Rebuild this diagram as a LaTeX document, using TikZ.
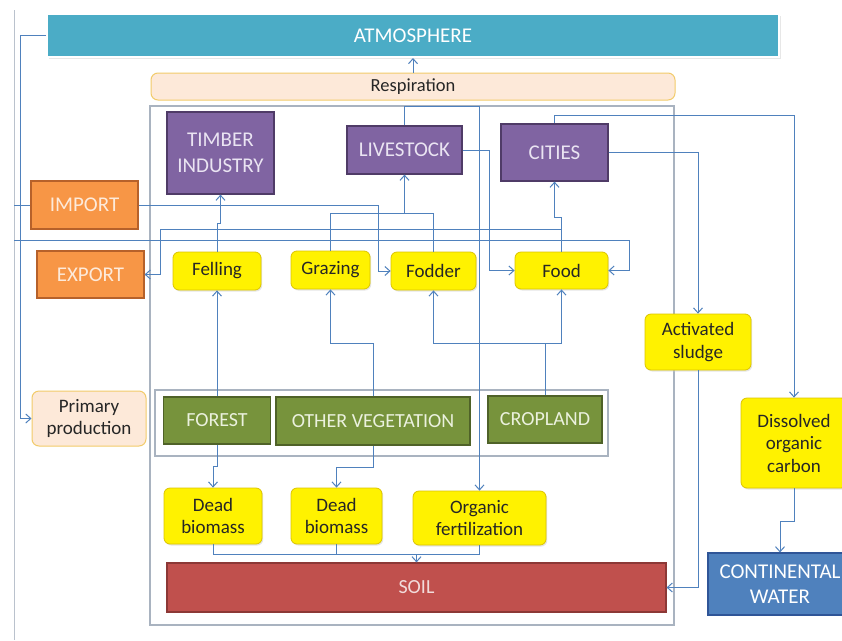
\documentclass[tikz,border=0pt]{standalone}
\usepackage{fontspec}
\setmainfont{Carlito}
\usetikzlibrary{arrows.meta,shadows}

\definecolor{atmfill}{HTML}{4BACC6}
\definecolor{flowblue}{HTML}{4F81BD}
\definecolor{framegray}{HTML}{A9B3C0}
\definecolor{peach}{HTML}{FDE9D9}
\definecolor{peachline}{HTML}{F2CB6A}
\definecolor{purplefill}{HTML}{8064A2}
\definecolor{purpleline}{HTML}{4F3B67}
\definecolor{purpletext}{HTML}{EAE4F2}
\definecolor{orangefill}{HTML}{F79646}
\definecolor{orangeline}{HTML}{B6612A}
\definecolor{orangetext}{HTML}{FDEADA}
\definecolor{greenfill}{HTML}{77933C}
\definecolor{greenline}{HTML}{4F6228}
\definecolor{greentext}{HTML}{EBF1DE}
\definecolor{redfill}{HTML}{C0504D}
\definecolor{redline}{HTML}{8C3836}
\definecolor{redtext}{HTML}{F2DCDB}
\definecolor{waterfill}{HTML}{4F81BD}
\definecolor{waterline}{HTML}{2F5597}
\definecolor{yellowline}{HTML}{DCC400}

\begin{document}
\begin{tikzpicture}[x=1pt,y=-1pt,
  >={Straight Barb[length=5pt,width=9pt]},
  flow/.style={draw=flowblue, line width=1pt},
  sz/.style 2 args={minimum width=#1pt, minimum height=#2pt},
  box/.style={rectangle, inner sep=0pt, align=center, line width=1.2pt},
  caps/.style={box, font=\fontsize{21}{25.5}\selectfont},
  purplebox/.style={caps, fill=purplefill, draw=purpleline, text=purpletext},
  orangebox/.style={caps, fill=orangefill, draw=orangeline, text=orangetext},
  greenbox/.style={caps, font=\fontsize{20}{24}\selectfont, fill=greenfill, draw=greenline, text=greentext},
  yellowbox/.style={box, rounded corners=6pt, fill=yellow, draw=yellowline, line width=0.8pt,
    text=black!85, font=\fontsize{19}{22.5}\selectfont,
    drop shadow={shadow xshift=1.2pt, shadow yshift=-1.5pt, fill=black!20}},
  peachbox/.style={box, rounded corners=7pt, fill=peach, draw=peachline, line width=1pt,
    text=black!85, font=\fontsize{19}{22.5}\selectfont},
  frame/.style={draw=framegray, line width=1.5pt}]

\useasboundingbox[fill=white] (0,0) rectangle (842,640);

% frames
\draw[draw=framegray!80, line width=1pt] (14,10) -- (14,640);
\draw[frame] (150,106) rectangle (674,625);
\draw[frame] (155,390) rectangle (608,456);

% top
\node[caps, sz={732}{43}, fill=atmfill, draw=white, line width=2pt, text=white,
  drop shadow={shadow xshift=1.5pt, shadow yshift=-2pt, fill=black!18}] (atm) at (413,35.5) {ATMOSPHERE};
\node[peachbox, sz={524}{27}, font=\fontsize{18.5}{22}\selectfont] (resp) at (413,86.5) {Respiration};

% uses
\node[purplebox, sz={107}{82}] (timber) at (220.5,153) {TIMBER\\INDUSTRY};
\node[purplebox, sz={115}{48}] (livestock) at (404.5,150) {LIVESTOCK};
\node[purplebox, sz={107}{57}] (cities) at (554.5,152.5) {CITIES};
\node[orangebox, sz={107}{48}] (import) at (84.5,205) {IMPORT};
\node[orangebox, sz={107}{47}] (export) at (90.5,274.5) {EXPORT};

% products
\node[yellowbox, sz={88}{38}] (felling) at (217,271) {Felling};
\node[yellowbox, sz={79}{38}] (grazing) at (330.5,270) {Grazing};
\node[yellowbox, sz={85}{38}] (fodder) at (433.5,271) {Fodder};
\node[yellowbox, sz={93}{37}] (food) at (561.5,270.5) {Food};
\node[yellowbox, sz={106}{56}] (sludge) at (698,342) {Activated\\sludge};
\node[yellowbox, sz={106}{90}] (doc) at (794,443) {Dissolved\\organic\\carbon};
\node[caps, sz={144}{62}, fill=waterfill, draw=waterline, text=white] (water) at (780,584) {CONTINENTAL\\WATER};
\node[peachbox, sz={114}{55}] (primary) at (89,418.5) {Primary\\production};

% land
\node[greenbox, sz={107}{47}] (forest) at (217,420.5) {FOREST};
\node[greenbox, sz={194}{48}] (other) at (373,421) {OTHER VEGETATION};
\node[greenbox, sz={114}{47}] (crop) at (545,419.5) {CROPLAND};
\node[yellowbox, sz={98}{56}] (dead1) at (213,516) {Dead\\biomass};
\node[yellowbox, sz={91}{56}] (dead2) at (336.5,516) {Dead\\biomass};
\node[yellowbox, sz={133}{54}] (orgfert) at (479.5,518) {Organic\\fertilization};
\node[box, sz={499}{49}, fill=redfill, draw=redline, text=redtext,
  font=\fontsize{20}{24}\selectfont] (soil) at (416.5,587.5) {SOIL};

\coordinate (inA) at (14,205);
\coordinate (inB) at (14,240);

% connectors
\draw[flow,->] (resp.north) -- (atm.south);
\draw[flow,->] (atm.west) -- ++(-26,0) |- (primary.west);
\draw[flow] (inA) -- (import.west);
\draw[flow,->] (import.east) -- ++(240,0) |- (fodder.west);
\draw[flow,->] (inB) -- (629,240) |- (food.east);
\draw[flow,->] (food.north) |- (160,229) |- (export.east);
\draw[flow,->] (food.north) -- (food.north |- 0,217) -| (cities.south);
\draw[flow,->] (felling.north) -- (felling.north |- 0,223) -| (timber.south);
\draw[flow] (grazing.north) |- (fodder.north |- 0,213) -- (fodder.north);
\draw[flow,->] (livestock.south |- 0,213) -- (livestock.south);
\draw[flow,->] (livestock.east) -- (489,150) |- (food.west);
\draw[flow,->] (livestock.north) |- (orgfert.north |- 0,106) -- (orgfert.north);
\draw[flow,->] (cities.north) |- (doc.north |- 0,115) -- (doc.north);
\draw[flow,->] (cities.east) -| (sludge.north);
\draw[flow,->] (sludge.south) |- (soil.east);
\draw[flow,->] (doc.south) -- (doc.south |- 0,521) -| (water.north);

\draw[flow,->] (forest.north) -- (felling.south);
\draw[flow,->] (other.north) -- (other.north |- 0,343) -| (grazing.south);
\draw[flow] (crop.north) -- (crop.north |- 0,343);
\draw[flow,->] (crop.north |- 0,343) -| (fodder.south);
\draw[flow,->] (crop.north |- 0,343) -| (food.south);
\draw[flow,->] (forest.south) -- (forest.south |- 0,466) -| (dead1.north);
\draw[flow,->] (other.south) -- (other.south |- 0,467) -| (dead2.north);
\draw[flow] (dead1.south) |- (orgfert.south |- 0,554) -- (orgfert.south);
\draw[flow] (dead2.south) -- (dead2.south |- 0,554);
\draw[flow,->] (soil.north |- 0,554) -- (soil.north);
\end{tikzpicture}
\end{document}
